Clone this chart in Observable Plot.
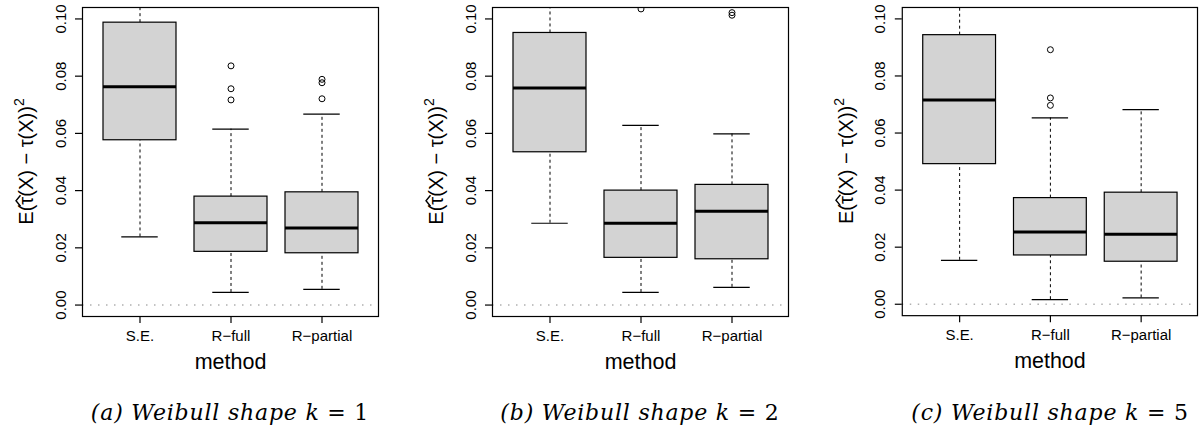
<!DOCTYPE html>
<html>
<head>
<meta charset="utf-8">
<script src="https://cdn.jsdelivr.net/npm/d3@7"></script>
<script src="https://cdn.jsdelivr.net/npm/@observablehq/plot@0.6"></script>
<style>
  html, body { margin: 0; padding: 0; background: #fff; overflow: hidden; }
  #wrap { position: relative; width: 1199px; height: 432px; }
  .panel { position: absolute; top: 0; }
  .cap { position: absolute; top: 400px; width: 380px; text-align: center; white-space: nowrap;
         font-family: "DejaVu Serif", "Liberation Serif", serif; font-size: 22px; letter-spacing: 0.8px;
         line-height: 26px; color: #000; }
  .cap i { font-style: italic; }
</style>
</head>
<body>
<div id="wrap"></div>
<script>
// ---- data ----
const methods = ["S.E.", "R−full", "R−partial"];
const captionLetters = ["(a)", "(b)", "(c)"];
const shapeK = [1, 2, 5];
const yTicks = [0, 0.02, 0.04, 0.06, 0.08, 0.10];

// one row per panel (k = 1, 2, 5), one entry per method
const whiskerLow  = [[0.0238, 0.0044, 0.0055], [0.0286, 0.0044, 0.0062], [0.0154, 0.0016, 0.0022]];
const boxLow      = [[0.0576, 0.0186, 0.0181], [0.0534, 0.0165, 0.0160], [0.0491, 0.0171, 0.0149]];
const medians     = [[0.0763, 0.0288, 0.0269], [0.0759, 0.0286, 0.0328], [0.0716, 0.0253, 0.0245]];
const boxHigh     = [[0.0987, 0.0379, 0.0394], [0.0951, 0.0400, 0.0420], [0.0943, 0.0372, 0.0391]];
const whiskerHigh = [[0.142, 0.0615, 0.0667], [0.137, 0.0628, 0.0598], [0.139, 0.0653, 0.0682]];

const outliersA = [["R−full", 0.0836], ["R−full", 0.0756], ["R−full", 0.0717],
                   ["R−partial", 0.0789], ["R−partial", 0.0777], ["R−partial", 0.0721]];
const outliersB = [["R−full", 0.1035], ["R−partial", 0.1022], ["R−partial", 0.1013]];
const outliersC = [["R−full", 0.0892], ["R−full", 0.0723], ["R−full", 0.0697]];
const outliers = [outliersA, outliersB, outliersC];

// ---- layout ----
const W = 380, H = 372, ML = 82, MR = 2, MT = 7, MB = 56;
const panelLeft = [0, 410, 820];
const fontSans = '"Liberation Sans", Arial, Helvetica, sans-serif';

function makePanel(p) {
  const rows = methods.map((m, i) => ({
    method: m, lo: whiskerLow[p][i], q1: boxLow[p][i], med: medians[p][i],
    q3: boxHigh[p][i], hi: whiskerHigh[p][i]
  }));
  const outs = outliers[p].map(([m, v]) => ({method: m, value: v}));
  const bandW = (W - ML - MR) / 3.24 * 0.8;
  const staple = bandW / 4;

  const svg = Plot.plot({
    width: W, height: H,
    marginLeft: ML, marginRight: MR, marginTop: MT, marginBottom: MB,
    style: {fontFamily: fontSans, fontSize: "15px", color: "#000", background: "#fff", overflow: "visible"},
    x: {type: "band", domain: methods, paddingInner: 0.2, paddingOuter: 0.22, label: null, axis: null},
    y: {domain: [-0.004, 0.104], label: null, axis: null},
    marks: [
      Plot.ruleY([0], {stroke: "#b0b0b0", strokeWidth: 1.5, strokeDasharray: "1.5,6.5"}),
      Plot.ruleX(rows, {x: "method", y1: "q3", y2: "hi", stroke: "#000", strokeDasharray: "3,3", clip: true}),
      Plot.ruleX(rows, {x: "method", y1: "lo", y2: "q1", stroke: "#000", strokeDasharray: "3,3"}),
      Plot.tickY(rows, {x: "method", y: "hi", stroke: "#000", strokeWidth: 1.2, insetLeft: staple, insetRight: staple, clip: true}),
      Plot.tickY(rows, {x: "method", y: "lo", stroke: "#000", strokeWidth: 1.2, insetLeft: staple, insetRight: staple}),
      Plot.barY(rows, {x: "method", y1: "q1", y2: "q3", fill: "#d3d3d3", stroke: "#000", strokeWidth: 1.2}),
      Plot.tickY(rows, {x: "method", y: "med", stroke: "#000", strokeWidth: 3}),
      Plot.dot(outs, {x: "method", y: "value", r: 3, stroke: "#000", strokeWidth: 1, fill: "none", clip: true}),
      Plot.frame({stroke: "#000", strokeWidth: 1.2}),
      // y axis ticks and rotated labels
      Plot.axisY({ticks: yTicks, tickSize: 7, tickFormat: () => "", stroke: "#000", strokeWidth: 1.2}),
      Plot.text(yTicks, {y: d => d, text: d => d3.format(".2f")(d), frameAnchor: "left", dx: -17,
                         rotate: -90, textAnchor: "middle", lineAnchor: "bottom", fontSize: 15, fill: "#000"}),
      // x axis
      Plot.axisX({tickSize: 7, tickPadding: 7, fontSize: 15, stroke: "#000", strokeWidth: 1.2, fill: "#000"}),
      Plot.text(["method"], {frameAnchor: "bottom", dy: 52, lineAnchor: "bottom", fontSize: 21.5, fill: "#000"})
    ]
  });

  const div = document.createElement("div");
  div.className = "panel";
  div.style.left = panelLeft[p] + "px";
  div.appendChild(svg);
  document.getElementById("wrap").appendChild(div);

  // y-axis title with hat and superscript
  const g = d3.select(svg).append("g")
    .attr("transform", `translate(33,${(MT + (H - MB)) / 2}) rotate(-90)`);
  const t = g.append("text")
    .attr("text-anchor", "middle")
    .attr("font-family", fontSans)
    .attr("font-size", 20)
    .attr("fill", "#000");
  const tA = t.append("tspan").text("E(");
  const tT = t.append("tspan").text("τ");
  t.append("tspan").text("(X) − τ(X))");
  t.append("tspan").attr("dy", -9).attr("font-size", 14).text("2");
  const L = t.node().getComputedTextLength();
  const la = tA.node().getComputedTextLength();
  const lt = tT.node().getComputedTextLength();
  const cx = -L / 2 + la + lt / 2;
  g.append("path")
    .attr("d", `M${cx - 5.5},-12.5L${cx},-17L${cx + 5.5},-12.5`)
    .attr("fill", "none").attr("stroke", "#000").attr("stroke-width", 1.4);

  const cap = document.createElement("div");
  cap.className = "cap";
  cap.style.left = (panelLeft[p] + ML + (W - ML - MR) / 2 - W / 2) + "px";
  cap.innerHTML = `<i>${captionLetters[p]} Weibull shape k</i> = ${shapeK[p]}`;
  document.getElementById("wrap").appendChild(cap);
}

[0, 1, 2].forEach(makePanel);
</script>
</body>
</html>
